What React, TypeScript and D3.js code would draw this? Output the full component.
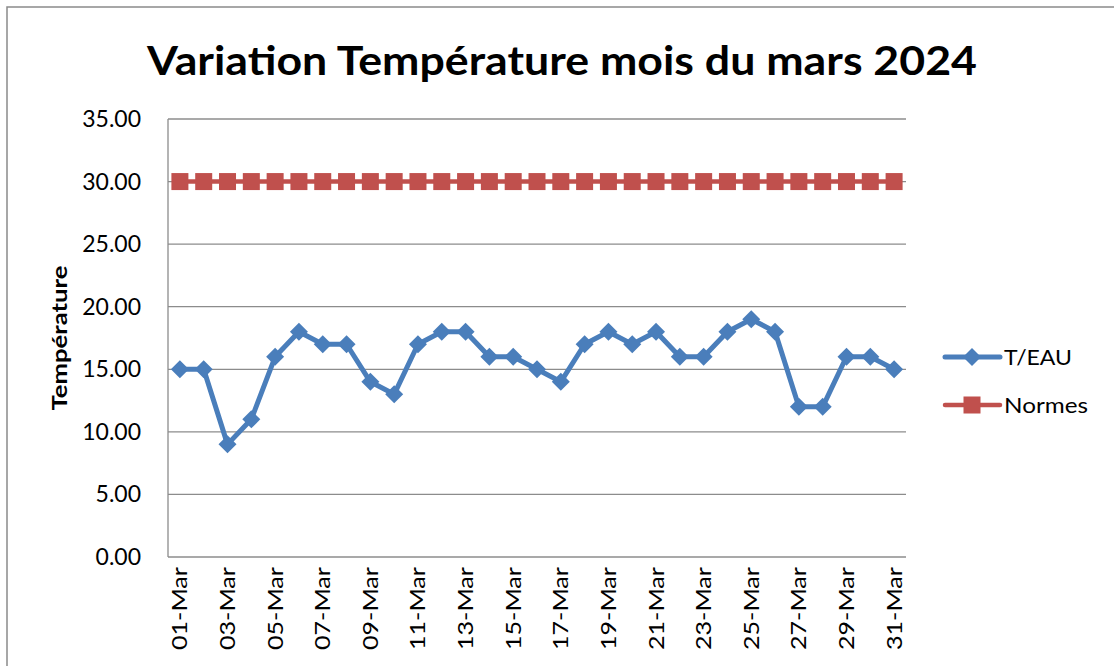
import React from "react";
import * as d3 from "d3";

const days: string[] = Array.from({ length: 31 }, (_, i) => String(i + 1).padStart(2, "0") + "-Mar");
const tEau: number[] = [15, 15, 9, 11, 16, 18, 17, 17, 14, 13, 17, 18, 18, 16, 16, 15, 14, 17, 18, 17, 18, 16, 16, 18, 19, 18, 12, 12, 16, 16, 15];
const normes: number[] = days.map(() => 30);
const yTicks: number[] = [0, 5, 10, 15, 20, 25, 30, 35];

const W = 1114, H = 666;
const L = 168, R = 906, T = 119, B = 557;
const BLUE = "#4A7EBB", RED = "#C0504D", GRID = "#8C8C8C";
const FONT = "Lato, 'Open Sans', sans-serif";

export default function App() {
  const x = d3.scaleBand<string>().domain(days).range([L, R]);
  const cx = (d: string) => (x(d) as number) + x.bandwidth() / 2;
  const y = d3.scaleLinear().domain([0, 35]).range([B, T]);
  const line = d3.line<number>().x((_, i) => cx(days[i])).y((v) => y(v));
  const dia = (px: number, py: number, s: number) => `M${px},${py - s} L${px + s},${py} L${px},${py + s} L${px - s},${py} Z`;

  return (
    <svg width={W} height={H} style={{ position: "absolute", left: 0, top: 0, background: "#fff" }}>
      <rect x={7} y={7} width={1200} height={800} fill="#fff" stroke="#8a8a8a" strokeWidth={1.5} />
      <text x={562} y={75} textAnchor="middle" fontFamily={FONT} fontWeight="bold" fontSize={40} fill="#000" textLength={830} lengthAdjust="spacingAndGlyphs">
        Variation Température mois du mars 2024
      </text>
      {yTicks.map((t) => (
        <g key={t}>
          {t > 0 && <line x1={L} x2={R} y1={y(t)} y2={y(t)} stroke={GRID} strokeWidth={1.3} />}
          <text x={141} y={y(t) + 8} textAnchor="end" fontFamily={FONT} fontSize={23} fill="#000">{t.toFixed(2)}</text>
        </g>
      ))}
      <line x1={L} x2={L} y1={T} y2={B} stroke={GRID} strokeWidth={1.3} />
      <line x1={L} x2={R} y1={B} y2={B} stroke={GRID} strokeWidth={1.3} />
      <text transform="translate(67,338) rotate(-90)" textAnchor="middle" fontFamily={FONT} fontWeight="bold" fontSize={20} fill="#000" textLength={145} lengthAdjust="spacingAndGlyphs">Température</text>
      {days.map((d, i) => i % 2 === 0 && (
        <text key={d} transform={`translate(${cx(d) + 7.5},567) rotate(-90)`} textAnchor="end" fontFamily={FONT} fontSize={21} fill="#000" textLength={83} lengthAdjust="spacingAndGlyphs">{d}</text>
      ))}
      <path d={line(normes) || ""} fill="none" stroke={RED} strokeWidth={4.5} />
      {normes.map((v, i) => (
        <rect key={i} x={cx(days[i]) - 8.5} y={y(v) - 8.5} width={17} height={17} fill={RED} />
      ))}
      <path d={line(tEau) || ""} fill="none" stroke={BLUE} strokeWidth={5} strokeLinejoin="round" />
      {tEau.map((v, i) => (
        <path key={i} d={dia(cx(days[i]), y(v), 9)} fill={BLUE} />
      ))}
      <line x1={945} x2={1000} y1={357} y2={357} stroke={BLUE} strokeWidth={5} strokeLinecap="round" />
      <path d={dia(972, 357, 9)} fill={BLUE} />
      <text x={1004} y={365} fontFamily={FONT} fontSize={22} fill="#000" textLength={68} lengthAdjust="spacingAndGlyphs">T/EAU</text>
      <line x1={945} x2={1000} y1={405} y2={405} stroke={RED} strokeWidth={4.5} strokeLinecap="round" />
      <rect x={963.5} y={396.5} width={17} height={17} fill={RED} />
      <text x={1004} y={413} fontFamily={FONT} fontSize={22} fill="#000" textLength={84} lengthAdjust="spacingAndGlyphs">Normes</text>
    </svg>
  );
}
